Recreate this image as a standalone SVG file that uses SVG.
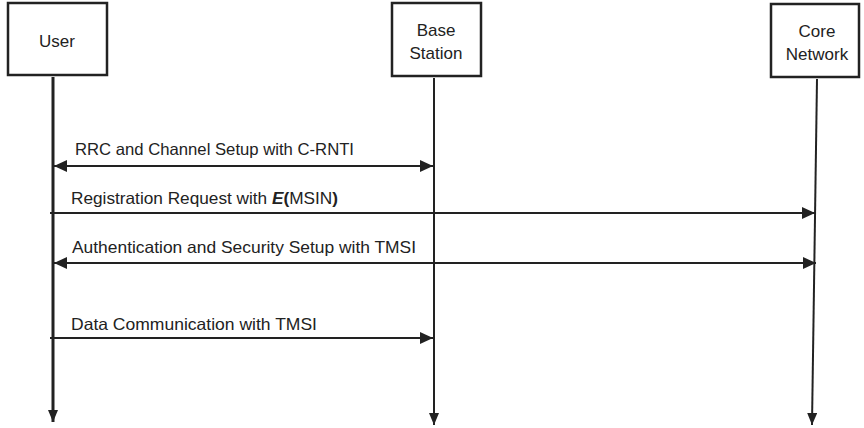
<svg xmlns="http://www.w3.org/2000/svg" width="864" height="428" viewBox="0 0 864 428">
  <style>
    .box { fill: #ffffff; stroke: #222222; stroke-width: 2.5; }
    .lbl { font-family: "Liberation Sans", Arial, sans-serif; font-size: 16.5px; fill: #222222; }
    .node { text-anchor: middle; font-size: 17px; }
    .life { stroke: #222222; fill: none; }
    .msg { stroke: #222222; stroke-width: 2; fill: none; }
  </style>
  <defs>
    <marker id="head" markerUnits="userSpaceOnUse" markerWidth="14" markerHeight="12" refX="13" refY="6" orient="auto-start-reverse">
      <path d="M0,0 L13,6 L0,12 Z" fill="#222222"/>
    </marker>
    <marker id="tip" markerUnits="userSpaceOnUse" markerWidth="10" markerHeight="14" refX="12" refY="5" orient="auto">
      <path d="M0,0 L12,5 L0,10 Z" fill="#222222"/>
    </marker>
  </defs>

  <!-- participants -->
  <g id="user">
    <rect class="box" x="8" y="3" width="99" height="72"/>
    <text class="lbl node" x="57" y="47">User</text>
  </g>
  <g id="base-station">
    <rect class="box" x="392" y="3" width="89" height="73"/>
    <text class="lbl node" x="436" y="36">Base</text>
    <text class="lbl node" x="436" y="59">Station</text>
  </g>
  <g id="core-network">
    <rect class="box" x="771" y="4" width="88" height="73"/>
    <text class="lbl node" x="817" y="37">Core</text>
    <text class="lbl node" x="817" y="60">Network</text>
  </g>

  <!-- lifelines and messages -->
  <g id="connectors">
    <line class="life" x1="53" y1="77" x2="53" y2="422" stroke-width="3" marker-end="url(#tip)"/>
    <line class="life" x1="434" y1="78" x2="434" y2="425" stroke-width="2" marker-end="url(#tip)"/>
    <line class="life" x1="817" y1="79" x2="812" y2="425" stroke-width="2" marker-end="url(#tip)"/>

    <line class="msg" x1="54" y1="166" x2="433" y2="166" marker-start="url(#head)" marker-end="url(#head)"/>
    <line class="msg" x1="50" y1="213" x2="815" y2="213" marker-end="url(#head)"/>
    <line class="msg" x1="54" y1="263" x2="816" y2="263" marker-start="url(#head)" marker-end="url(#head)"/>
    <line class="msg" x1="50" y1="338" x2="433" y2="338" marker-end="url(#head)"/>
  </g>

  <!-- message labels -->
  <g id="labels">
    <text class="lbl" x="75" y="155" textLength="279" lengthAdjust="spacingAndGlyphs">RRC and Channel Setup with C-RNTI</text>
    <text class="lbl" x="71" y="204" textLength="267" lengthAdjust="spacingAndGlyphs">Registration Request with <tspan font-weight="bold" font-style="italic">E</tspan><tspan font-weight="bold">(</tspan>MSIN<tspan font-weight="bold">)</tspan></text>
    <text class="lbl" x="72" y="253" textLength="344" lengthAdjust="spacingAndGlyphs">Authentication and Security Setup with TMSI</text>
    <text class="lbl" x="71" y="330" textLength="246" lengthAdjust="spacingAndGlyphs">Data Communication with TMSI</text>
  </g>
</svg>
